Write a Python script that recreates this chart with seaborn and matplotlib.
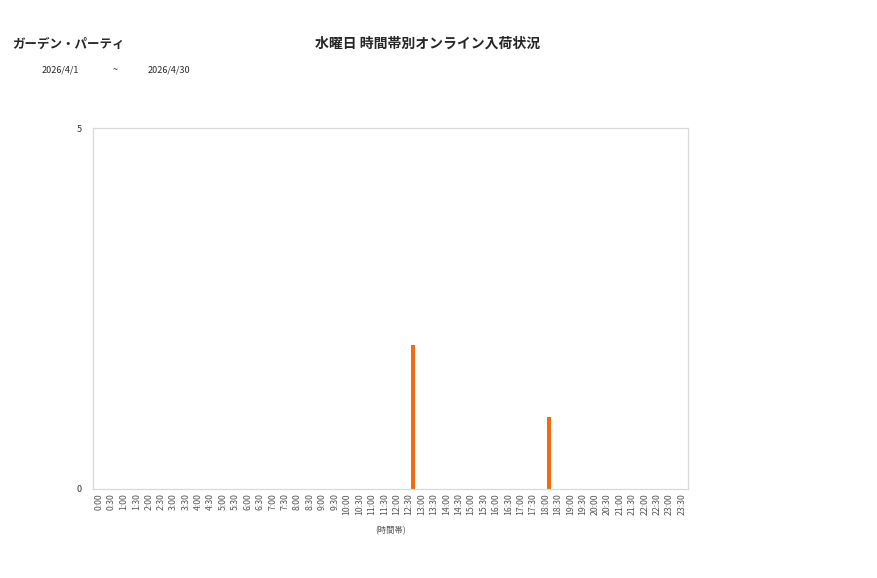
import numpy as np
import pandas as pd
import seaborn as sns
import matplotlib.pyplot as plt

# time slots (30 min) and the three series of the chart, only the last one has arrivals
slots = [f"{h}:{m:02d}" for h in range(24) for m in (0, 30)]
series_names = ["s1", "s2", "入荷"]
series_1 = [0] * 48
series_2 = [0] * 48
arrivals = [0] * 48
arrivals[slots.index("12:30")] = 2
arrivals[slots.index("18:00")] = 1

title = "水曜日 時間帯別オンライン入荷状況"
shop = "ガーデン・パーティ"
date_from = "2026/4/1"
date_to = "2026/4/30"

df = pd.DataFrame({
    "slot": slots * 3,
    "series": np.repeat(series_names, 48),
    "count": series_1 + series_2 + arrivals,
})

sns.set_theme(style="white")
plt.rcParams['font.family'] = ['Noto Sans CJK JP', 'DejaVu Sans']

fig = plt.figure(figsize=(8.77, 5.78), dpi=100)
ax = fig.add_axes([93 / 877, 89 / 578, 595 / 877, 361 / 578])

sns.barplot(data=df, x="slot", y="count", hue="series", hue_order=series_names,
            order=slots, palette=["#4472C4", "#A5A5A5", "#F26A12"], saturation=1,
            width=0.9, linewidth=0, legend=False, ax=ax)

ax.set_xlim(-0.5, len(slots) - 0.5)
ax.set_ylim(0, 5)
ax.set_yticks([0, 5])
ax.set_yticklabels(["0", "5"], fontsize=6.5, color="#333333")
ax.set_xticks(range(len(slots)))
ax.set_xticklabels(slots, rotation=90, fontsize=6.3, color="#555555")
ax.tick_params(axis="x", length=0, pad=3)
ax.tick_params(axis="y", length=0, pad=8)
ax.set_xlabel("(時間帯)", fontsize=6, color="#555555", labelpad=8)
ax.set_ylabel("")
for sp in ax.spines.values():
    sp.set_color("#d9d9d9")
    sp.set_linewidth(0.9)

fig.text(12 / 877, 1 - 44 / 578, shop, fontsize=9, fontweight="bold", va="center")
fig.text(428 / 877, 1 - 44 / 578, title, fontsize=10, fontweight="bold", ha="center", va="center")
fig.text(42 / 877, 1 - 70 / 578, date_from, fontsize=6.5, va="center")
fig.text(113 / 877, 1 - 70 / 578, "~", fontsize=6.5, va="center")
fig.text(148 / 877, 1 - 70 / 578, date_to, fontsize=6.5, va="center")

fig.savefig("out.png", dpi=100, facecolor="white")
